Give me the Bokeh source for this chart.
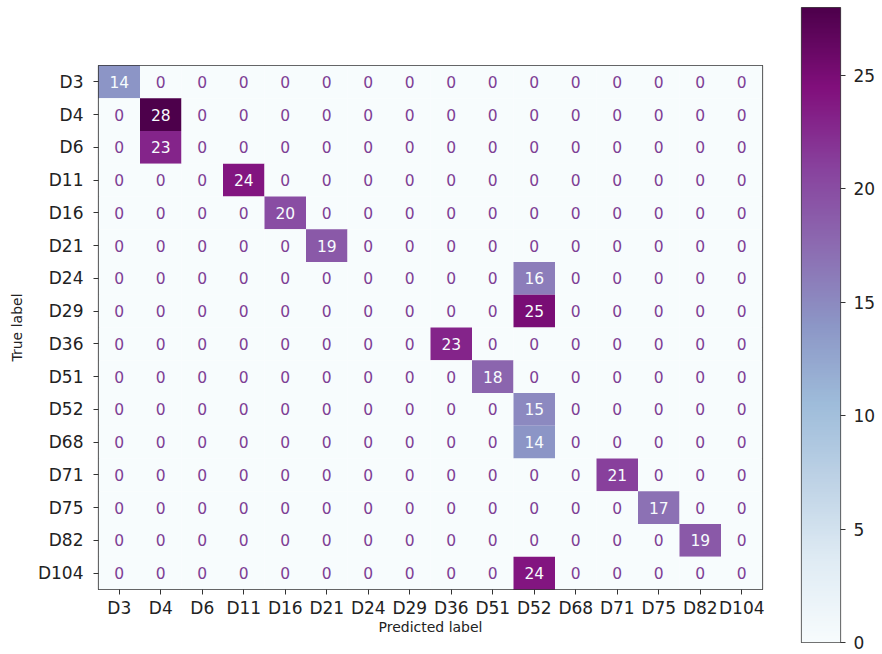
import numpy as np
from bokeh.plotting import figure
from bokeh.layouts import row
from bokeh.models import (ColumnDataSource, LinearColorMapper, FactorRange,
                          Range1d, FixedTicker)
from bokeh.core.properties import value
from bokeh.embed import file_html
from bokeh.resources import INLINE

labels = ["D3", "D4", "D6", "D11", "D16", "D21", "D24", "D29", "D36", "D51",
          "D52", "D68", "D71", "D75", "D82", "D104"]

# Non-zero cells of the confusion matrix: (true label, predicted label, count)
nz_true = ["D3", "D4", "D6", "D11", "D16", "D21", "D24", "D29", "D36", "D51",
           "D52", "D68", "D71", "D75", "D82", "D104"]
nz_pred = ["D3", "D4", "D4", "D11", "D16", "D21", "D52", "D52", "D36", "D51",
           "D52", "D52", "D71", "D75", "D82", "D52"]
nz_count = [14, 28, 23, 24, 20, 19, 16, 25, 23, 18, 15, 14, 21, 17, 19, 24]

cbar_ticks = [0, 5, 10, 15, 20, 25]

# BuPu colour map (ColorBrewer 9 anchors, light -> dark), interpolated to 256
bupu9 = ["#f7fcfd", "#e0ecf4", "#bfd3e6", "#9ebcda", "#8c96c6",
         "#8c6bb1", "#88419d", "#810f7c", "#4d004b"]


def interp_palette(anchors, n=256):
    rgb = np.array([[int(c[i:i + 2], 16) for i in (1, 3, 5)] for c in anchors], float)
    xs = np.linspace(0, 1, len(anchors))
    t = np.linspace(0, 1, n)
    out = []
    for v in t:
        r, g, b = (np.interp(v, xs, rgb[:, k]) for k in range(3))
        out.append("#%02x%02x%02x" % (int(round(r)), int(round(g)), int(round(b))))
    return out


palette = interp_palette(bupu9)
vmin, vmax = 0, max(nz_count)
mapper = LinearColorMapper(palette=palette, low=vmin, high=vmax)

# Build full matrix
matrix = {(t, p): 0 for t in labels for p in labels}
for t, p, c in zip(nz_true, nz_pred, nz_count):
    matrix[(t, p)] = c

xs, ys, vals, tcols = [], [], [], []
thresh = (vmin + vmax) / 2.0
for t in labels:
    for p in labels:
        v = matrix[(t, p)]
        xs.append(p)
        ys.append(t)
        vals.append(v)
        tcols.append("#f7fcfd" if v >= thresh else "#7e3f95")

src = ColumnDataSource(dict(x=xs, y=ys, v=vals, txt=[str(v) for v in vals], tc=tcols))

FONT = "DejaVu Sans"

p = figure(width=768, height=654, output_backend="svg", toolbar_location=None,
           x_range=FactorRange(*labels), y_range=FactorRange(*labels[::-1]),
           min_border_left=98, min_border_right=6, min_border_top=65,
           min_border_bottom=65)
p.frame_align = False
p.rect(x="x", y="y", width=1, height=1, source=src,
       fill_color={"field": "v", "transform": mapper}, line_color=None)
p.text(x="x", y="y", text="txt", source=src, text_color="tc",
       text_align="center", text_baseline="middle", text_font_size="15.5px",
       text_font=value(FONT))

p.grid.visible = False
p.outline_line_color = "#333333"
p.outline_line_width = 1.2
p.background_fill_color = "white"
p.border_fill_color = "white"
for ax in (p.xaxis[0], p.yaxis[0]):
    ax.axis_line_color = None
    ax.major_tick_out = 5
    ax.major_tick_in = 0
    ax.major_tick_line_color = "#333333"
    ax.minor_tick_line_color = None
    ax.major_label_text_font = FONT
    ax.major_label_text_font_size = "17px"
    ax.major_label_text_color = "#222222"
    ax.axis_label_text_font = FONT
    ax.axis_label_text_font_size = "14px"
    ax.axis_label_text_font_style = "normal"
    ax.axis_label_text_color = "#222222"
p.xaxis.axis_label = "Predicted label"
p.yaxis.axis_label = "True label"
p.xaxis.major_label_standoff = 3
p.xaxis.axis_label_standoff = -2
p.yaxis.major_label_standoff = 10
p.yaxis.axis_label_standoff = 10

# Colour bar as its own small figure
cb = figure(width=110, height=654, output_backend="svg", toolbar_location=None,
            x_range=Range1d(0, 1), y_range=Range1d(vmin, vmax),
            y_axis_location="right", min_border_left=33, min_border_right=36,
            min_border_top=7, min_border_bottom=12)
cb.frame_align = False
grad = np.linspace(vmin, vmax, 256).reshape(-1, 1)
cb.image(image=[grad], x=0, y=vmin, dw=1, dh=vmax - vmin, color_mapper=mapper)
cb.xaxis.visible = False
cb.grid.visible = False
cb.outline_line_color = "#444444"
cb.outline_line_width = 1.2
ya = cb.yaxis[0]
ya.ticker = FixedTicker(ticks=cbar_ticks)
ya.axis_line_color = None
ya.major_tick_out = 5
ya.major_tick_in = 0
ya.minor_tick_line_color = None
ya.major_tick_line_color = "#333333"
ya.major_label_standoff = 8
ya.major_label_text_font = FONT
ya.major_label_text_font_size = "17px"
ya.major_label_text_color = "#222222"

layout = row(p, cb)
open("out.html", "w").write(file_html(layout, INLINE))
